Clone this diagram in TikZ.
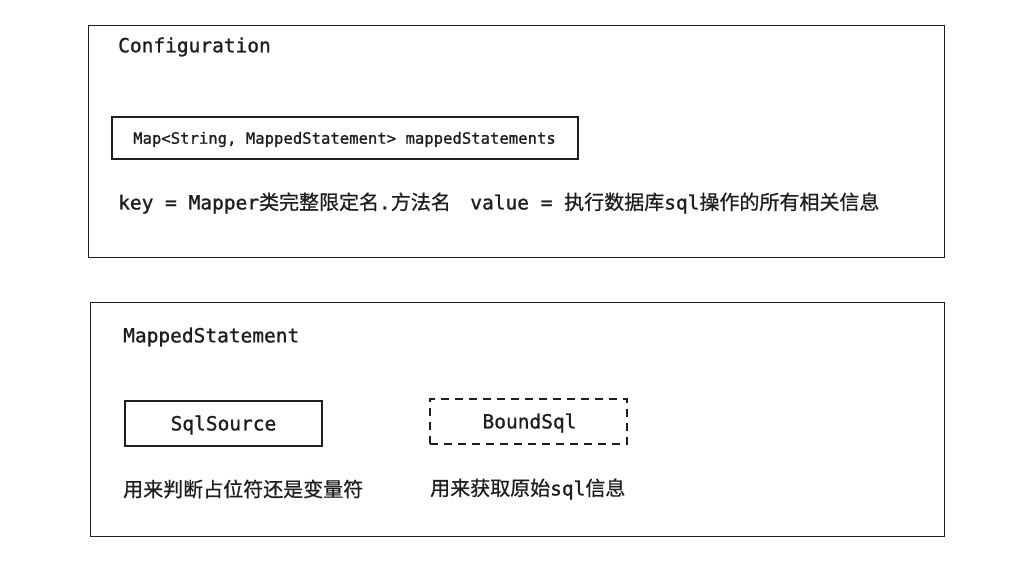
\documentclass[tikz,border=0pt]{standalone}
\usepackage{fontspec}
\setmainfont{DejaVu Sans Mono}[FakeBold=1.1]
\newfontfamily\cjk{Noto Sans CJK SC}[FakeBold=0.6]
\definecolor{ink}{HTML}{1E1E1E}
\begin{document}
\begin{tikzpicture}[x=1pt,y=-1pt,
  frame/.style={draw=ink,line width=1.3pt,inner sep=0pt,anchor=north west},
  inbox/.style={draw=ink,line width=1.2pt,inner sep=0pt},
  ttl/.style={anchor=west,inner sep=0pt,font=\fontsize{19.5}{22}\selectfont,text=ink},
  small/.style={inner sep=0pt,font=\fontsize{15.6}{19}\selectfont,text=ink},
  lbl/.style={inner sep=0pt,font=\fontsize{19.5}{22}\selectfont,text=ink},
  cj/.style={anchor=west,inner sep=0pt,font=\fontsize{20}{22}\selectfont,text=ink}]
\useasboundingbox[fill=white] (0,0) rectangle (1023,561);
% outer frames
\node[frame,minimum width=856pt,minimum height=232pt] (conf) at (88,25) {};
\node[frame,minimum width=854pt,minimum height=234pt] (ms) at (90,302) {};
% Configuration content
\node[ttl] (conftitle) at (118,47) {Configuration};
\node[inbox,minimum width=466pt,minimum height=42pt] (map) at (345,138) {};
\node[small] (maptext) at (344.5,139.5) {Map<String, MappedStatement> mappedStatements};
\node[ttl] (keyline) at (118,203) {key = Mapper{\cjk\fontsize{20}{22}\selectfont 类完整限定名}.{\cjk\fontsize{20}{22}\selectfont 方法名}\hspace{19.5pt}value = {\cjk\fontsize{20}{22}\selectfont 执行数据库}sql{\cjk\fontsize{20}{22}\selectfont 操作的所有相关信息}};
% MappedStatement content
\node[ttl] (mstitle) at (123,337) {MappedStatement};
\node[inbox,minimum width=197pt,minimum height=45pt] (sqls) at (223.5,423.5) {};
\node[lbl] (sqlstext) at (223.5,425) {SqlSource};
\node[inbox,dash pattern=on 8pt off 6pt,minimum width=197pt,minimum height=45pt] (bound) at (528.5,421.5) {};
\node[lbl] (boundtext) at (529.5,423) {BoundSql};
\node[cj] (sqlsdesc) at (123,489) {\cjk 用来判断占位符还是变量符};
\node[cj] (bounddesc) at (430,489) {{\cjk 用来获取原始}\fontsize{19.5}{22}\selectfont sql{\cjk\fontsize{20}{22}\selectfont 信息}};
\end{tikzpicture}
\end{document}
